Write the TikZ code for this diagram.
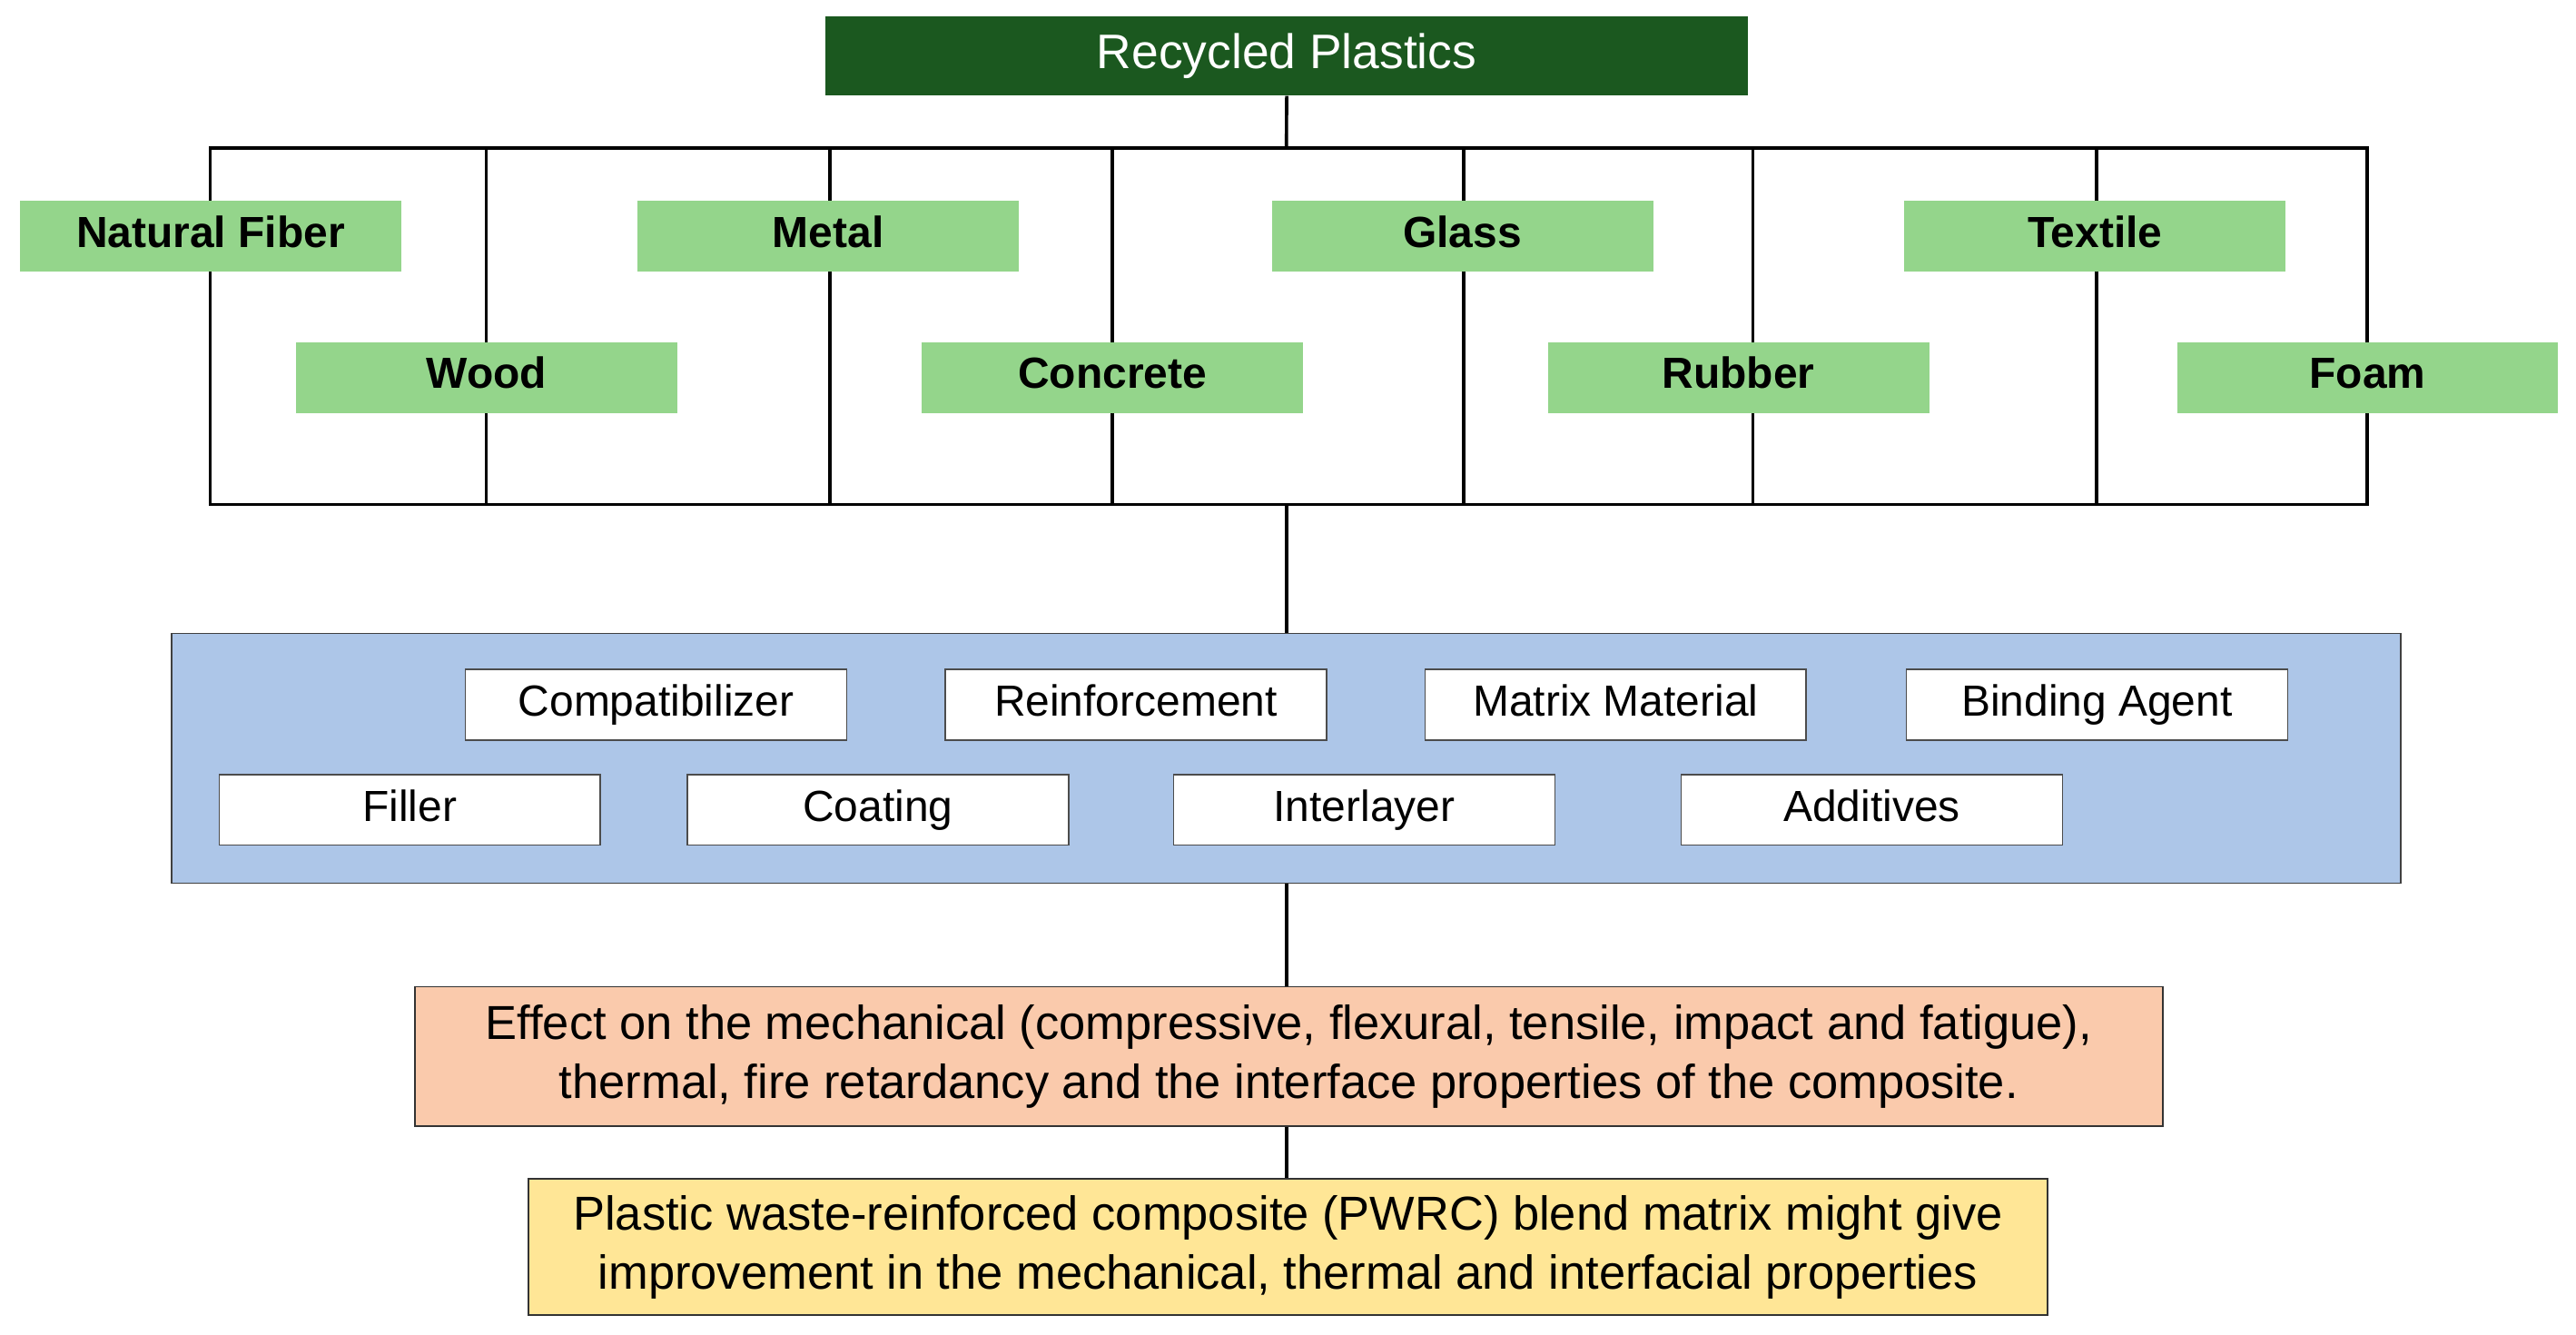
\documentclass[tikz,border=0pt]{standalone}
\usepackage{fontspec}
\setmainfont{Liberation Sans}
\begin{document}
\begin{tikzpicture}[x=1pt,y=-1pt,
  gbox/.style={fill=lgreen,draw=none,inner sep=0pt,anchor=north west,minimum width=232pt,minimum height=43pt,text height=19pt,text depth=5.5pt,font=\fontsize{26.5}{30}\selectfont\bfseries},
  wbox/.style={fill=white,draw=black!70,line width=0.8pt,inner sep=0pt,anchor=north west,minimum width=232pt,minimum height=43pt,text height=19pt,text depth=5.5pt,font=\fontsize{26.5}{30}\selectfont},
  ln/.style={line width=2pt,black}]
\definecolor{dgreen}{RGB}{27,88,31}
\definecolor{lgreen}{RGB}{148,213,139}
\definecolor{lblue}{RGB}{173,198,232}
\definecolor{salmon}{RGB}{250,202,172}
\definecolor{lyellow}{RGB}{255,230,150}
\useasboundingbox (0,0) rectangle (1568,812);
\coordinate (tl) at (128,90); \coordinate (br) at (1441,307);
\draw[ln] (tl) rectangle (br);
\foreach \x in {296,505,677,891,1067,1276}{\draw[ln] (\x,90) -- (\x,307);}
\node[fill=dgreen,inner sep=0pt,anchor=north west,minimum width=562pt,minimum height=48pt,text height=21pt,text depth=6pt,text=white,font=\fontsize{29.5}{34}\selectfont] (rp) at (502,10) {Recycled Plastics};
\coordinate (top) at (783,90);
\draw[ln] (rp.south) -- (top);
\node[gbox] (nf) at (12,122) {Natural Fiber};
\node[gbox] (me) at (388,122) {Metal};
\node[gbox] (gl) at (774,122) {Glass};
\node[gbox] (te) at (1159,122) {Textile};
\node[gbox] (wo) at (180,208) {Wood};
\node[gbox] (co) at (561,208) {Concrete};
\node[gbox] (ru) at (942,208) {Rubber};
\node[gbox] (fo) at (1325,208) {Foam};
\node[fill=lblue,draw=black!75,line width=1pt,inner sep=0pt,anchor=north west,minimum width=1357pt,minimum height=152pt] (bb) at (104,385) {};
\coordinate (bot) at (783,307);
\draw[ln] (bot) -- (bb.north -| bot);
\node[wbox] (c1) at (283,407) {Compatibilizer};
\node[wbox] (c2) at (575,407) {Reinforcement};
\node[wbox] (c3) at (867,407) {Matrix Material};
\node[wbox] (c4) at (1160,407) {Binding Agent};
\node[wbox] (d1) at (133,471) {Filler};
\node[wbox] (d2) at (418,471) {Coating};
\node[wbox] (d3) at (714,471) {Interlayer};
\node[wbox] (d4) at (1023,471) {Additives};
\node[fill=salmon,draw=black!80,line width=1pt,inner sep=0pt,anchor=north west,minimum width=1064pt,minimum height=85pt,align=center,font=\fontsize{29}{36}\selectfont] (ef) at (252,600) {Effect on the mechanical (compressive, flexural, tensile, impact and fatigue),\\thermal, fire retardancy and the interface properties of the composite.};
\draw[ln] (bb.south -| bot) -- (ef.north -| bot);
\node[fill=lyellow,draw=black!80,line width=1pt,inner sep=0pt,anchor=north west,minimum width=925pt,minimum height=83pt,align=center,font=\fontsize{29}{36}\selectfont] (pw) at (321,717) {Plastic waste-reinforced composite (PWRC) blend matrix might give\\improvement in the mechanical, thermal and interfacial properties};
\draw[ln] (ef.south -| bot) -- (pw.north -| bot);
\end{tikzpicture}
\end{document}
